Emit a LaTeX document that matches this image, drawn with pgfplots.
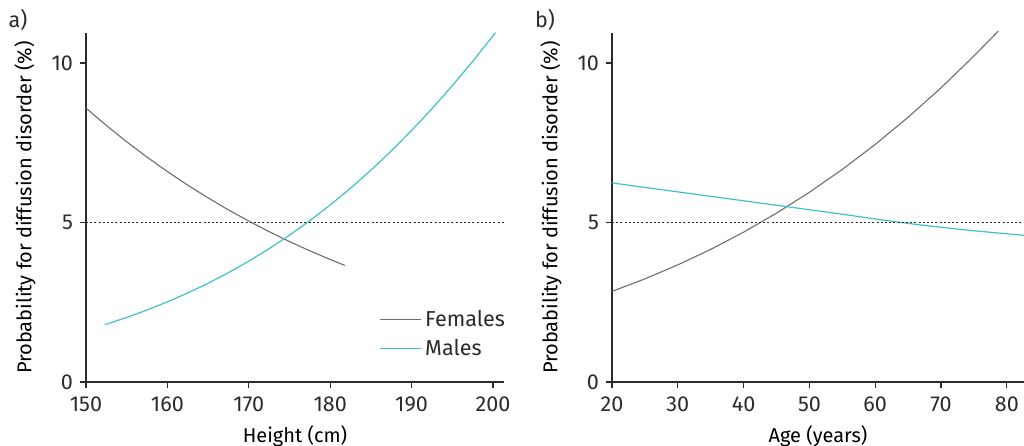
\documentclass[border=0pt]{standalone}
\usepackage{fontspec}
\setmainfont{Fira Sans}
\usepackage{pgfplots}
\pgfplotsset{compat=1.18}
\definecolor{cgray}{HTML}{6E6E6E}
\definecolor{cteal}{HTML}{3EC1C9}
\definecolor{ctext}{HTML}{2B2B2B}
\newcommand{\myfont}{\fontsize{10.8}{12}\selectfont}
\pgfplotsset{
  myaxis/.style={
    scale only axis,
    axis lines=left,
    axis line style={-, line width=0.6pt, color=ctext},
    tick align=outside,
    major tick length=3pt,
    tick style={line width=0.6pt, color=ctext},
    ymin=0, ymax=10.94,
    ytick={0,5,10},
    height=174.5pt,
    /pgf/number format/assume math mode=true,
    tick label style={font=\myfont, text=ctext},
    xticklabel style={yshift=-1pt},
    label style={font=\myfont, text=ctext},
    every axis y label/.style={at={(axis description cs:0,0.5)}, rotate=90, anchor=center, yshift=30.5pt},
    every axis x label/.style={at={(axis description cs:0.5,0)}, anchor=center, yshift=-27pt},
    clip=false,
  }
}
\begin{document}
\begin{tikzpicture}[x=1pt,y=1pt]
\path[use as bounding box] (0,0) rectangle (512,222.5);
\node[font=\myfont, text=ctext] at (9,212.5) {a)};
\node[font=\myfont, text=ctext] at (272.5,212.5) {b)};
\begin{axis}[myaxis,
  at={(43pt,31.5pt)}, anchor=south west,
  width=209pt,
  xmin=150, xmax=201.35,
  xtick={150,160,170,180,190,200},
  xlabel={Height (cm)},
  ylabel={Probability for diffusion disorder (\%)},
  legend style={at={(0.70,0.055)}, anchor=south west, draw=none, fill=none, font=\myfont, text=ctext, row sep=1pt, inner sep=0pt},
  legend cell align=left,
  legend image code/.code={\draw[#1] (0pt,0pt) -- (20.5pt,0pt);},
]
\addplot[cgray, line width=0.55pt] coordinates {
(150,8.585) (152.5,8.042) (155,7.530) (157.5,7.049) (160,6.596) (162.5,6.170)
(165,5.771) (167.5,5.395) (170,5.043) (172.5,4.712) (175,4.402) (177.5,4.112)
(180,3.840) (181.8,3.655)};
\addlegendentry{Females}
\addplot[cteal, line width=0.6pt] coordinates {
(152.3,1.795) (155,2.023) (157.5,2.256) (160,2.512) (162.5,2.791) (165,3.095)
(167.5,3.428) (170,3.788) (172.5,4.179) (175,4.602) (177.5,5.058) (180,5.549)
(182.5,6.075) (185,6.640) (187.5,7.241) (190,7.886) (192.5,8.567) (195,9.289)
(197.5,10.05) (200.3,10.95)};
\addlegendentry{Males}
\addplot[ctext, line width=0.6pt, dash pattern=on 1pt off 1.1pt, forget plot] coordinates {(150,5) (201.35,5)};
\end{axis}
\begin{axis}[myaxis,
  at={(306pt,31.5pt)}, anchor=south west,
  width=206pt,
  xmin=20, xmax=82.6,
  xtick={20,30,40,50,60,70,80},
  xlabel={Age (years)},
  ylabel={Probability for diffusion disorder (\%)},
]
\addplot[cgray, line width=0.55pt] coordinates {
(20,2.84) (25,3.233) (30,3.671) (35,4.158) (40,4.698) (45,5.294) (50,5.948)
(55,6.665) (60,7.449) (65,8.300) (70,9.223) (75,10.22) (78.7,11.0)};
\addplot[cteal, line width=0.6pt] coordinates {
(20,6.24) (25,6.10) (30,5.96) (35,5.82) (40,5.68) (45,5.54) (50,5.40)
(55,5.26) (60,5.11) (65,4.97) (70,4.85) (75,4.74) (80,4.645) (82.6,4.60)};
\addplot[ctext, line width=0.6pt, dash pattern=on 1pt off 1.1pt] coordinates {(20,5) (82.6,5)};
\end{axis}
\end{tikzpicture}
\end{document}
